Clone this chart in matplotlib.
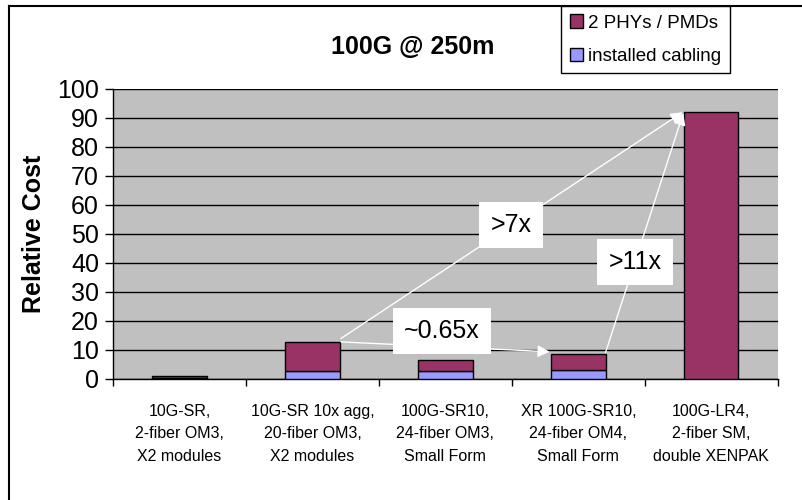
import matplotlib
matplotlib.use('Agg')
import matplotlib.pyplot as plt
import numpy as np
from matplotlib.lines import Line2D

plt.rcParams['font.family'] = ['Liberation Sans', 'DejaVu Sans']

# data
categories = ['10G-SR,\n2-fiber OM3,\nX2 modules',
              '10G-SR 10x agg,\n20-fiber OM3,\nX2 modules',
              '100G-SR10,\n24-fiber OM3,\nSmall Form',
              'XR 100G-SR10,\n24-fiber OM4,\nSmall Form',
              '100G-LR4,\n2-fiber SM,\ndouble XENPAK']
cabling = [0.3, 2.6, 2.6, 3.0, 0.0]
phy_pmd = [0.8, 10.1, 3.7, 5.4, 92.0]
yticks = list(range(0, 101, 10))

total = np.array(cabling) + np.array(phy_pmd)
x = np.arange(len(categories))
w = 0.41

fig = plt.figure(figsize=(8.03, 5.0), dpi=100)
ax = fig.add_axes([113/803, 1 - 378.7/500, (777.7-113)/803, (378.7-89)/500])
ax.set_facecolor('#C0C0C0')

b1 = ax.bar(x, cabling, w, color='#9999FF', edgecolor='black', linewidth=1, zorder=3,
            label='installed cabling')
b2 = ax.bar(x, phy_pmd, w, bottom=cabling, color='#993366', edgecolor='black', linewidth=1,
            zorder=3, label='2 PHYs / PMDs')

ax.set_xlim(-0.5, len(categories) - 0.5)
ax.set_ylim(0, 100)
ax.set_yticks(yticks)
ax.set_yticklabels([str(t) for t in yticks], family=['Liberation Sans Narrow', 'Liberation Sans'],
                   fontsize=18)
ax.yaxis.grid(True, color='black', linewidth=1, zorder=1)
ax.set_xticks(np.arange(len(categories) + 1) - 0.5)
ax.set_xticklabels([])
ax.tick_params(axis='x', length=5, width=1, direction='out')
ax.tick_params(axis='y', length=6, width=1, direction='out', pad=4)
for s in ['top', 'right']:
    ax.spines[s].set_visible(False)
ax.spines['left'].set_linewidth(1)
ax.spines['bottom'].set_linewidth(1)

for i, lab in enumerate(categories):
    ax.text(i, -8.8, lab, ha='center', va='top', fontsize=11.5, linespacing=1.6)

ax.set_ylabel('Relative Cost', fontsize=18, fontweight='bold', labelpad=8)

fig.text(413/803, 1 - 47/500, '100G @ 250m', ha='center', va='center',
         fontsize=18, fontweight='bold')

leg = fig.legend([b2, b1], ['2 PHYs / PMDs', 'installed cabling'], loc='upper right',
                 bbox_to_anchor=(730/803, 1 - 6/500), fontsize=13.5, frameon=True,
                 fancybox=False, edgecolor='black', framealpha=1, handlelength=0.7,
                 handleheight=0.7, handletextpad=0.3, borderpad=0.45, labelspacing=0.85,
                 borderaxespad=0)
leg.get_frame().set_linewidth(1)

# arrows between bar corners
arrow = dict(arrowstyle='-|>', color='white', lw=1, mutation_scale=18, shrinkA=0, shrinkB=0)
ax.annotate('', xy=(4 - w/2 - 0.01, total[4]), xytext=(1 + w/2 + 0.01, total[1] + 1.2),
            arrowprops=arrow, zorder=4)
ax.annotate('', xy=(4 - w/2 - 0.005, total[4] - 0.3), xytext=(3 + w/2, total[3] + 0.6),
            arrowprops=arrow, zorder=4)
ax.annotate('', xy=(3 - w/2 - 0.01, total[3] + 0.9), xytext=(1 + w/2 + 0.01, total[1]),
            arrowprops=arrow, zorder=4)

box = dict(facecolor='white', edgecolor='none', boxstyle='square,pad=0.45')
ax.text(2.494, 53.1, '>7x', ha='center', va='center', fontsize=18, bbox=box, zorder=5)
ax.text(3.427, 40.3, '>11x', ha='center', va='center', fontsize=18, bbox=box, zorder=5)
ax.text(1.975, 16.5, '~0.65x', ha='center', va='center', fontsize=18, bbox=box, zorder=5)

# outer chart border
fig.add_artist(Line2D([9/803, 1.0], [1 - 5.5/500, 1 - 5.5/500], color='black', lw=1.5,
                      transform=fig.transFigure))
fig.add_artist(Line2D([9/803, 9/803], [0, 1 - 5.5/500], color='black', lw=1.5,
                      transform=fig.transFigure))

fig.savefig('out.png', dpi=100)
